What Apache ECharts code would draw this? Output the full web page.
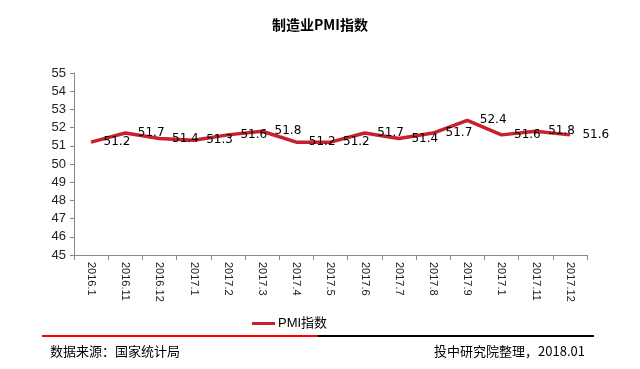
<!DOCTYPE html>
<html><head><meta charset="utf-8">
<script src="https://cdn.jsdelivr.net/npm/echarts@6/dist/echarts.min.js"></script>
<style>html,body{margin:0;padding:0;background:#fff}#c{width:640px;height:369px}</style>
</head><body><div id="c"></div>
<script>
var categories = ['2016.1','2016.11','2016.12','2017.1','2017.2','2017.3','2017.4','2017.5','2017.6','2017.7','2017.8','2017.9','2017.1','2017.11','2017.12'];
var pmiValues = [51.2, 51.7, 51.4, 51.3, 51.6, 51.8, 51.2, 51.2, 51.7, 51.4, 51.7, 52.4, 51.6, 51.8, 51.6];
var seriesName = 'PMI指数';
var titleText = '制造业PMI指数';
var sourceText = '数据来源：国家统计局';
var creditText = '投中研究院整理，2018.01';

var chart = echarts.init(document.getElementById('c'), null, {renderer:'canvas'});
chart.setOption({
  animation: false,
  backgroundColor: '#fff',
  title: {
    text: titleText, left: 267, top: 13,
    textStyle: {fontSize: 14, fontWeight: 'bold', color: '#000', fontFamily: 'Noto Sans CJK SC'}
  },
  legend: {
    data: [{name: seriesName, icon: 'rect'}],
    left: 247, top: 312, itemWidth: 23, itemHeight: 3, itemGap: 4,
    textStyle: {fontSize: 13, color: '#000', fontFamily: 'Liberation Sans, Noto Sans CJK SC', padding: [0,0,0,-2]}
  },
  grid: {left: 74, right: 53, top: 73, bottom: 114},
  xAxis: {
    type: 'category', data: categories, boundaryGap: true,
    axisLine: {lineStyle: {color: '#888', width: 1}},
    axisTick: {show: true, length: 5, lineStyle: {color: '#888'}},
    axisLabel: {interval: 0, rotate: -90, margin: 7, fontSize: 11, color: '#222', fontFamily: 'Liberation Sans'}
  },
  yAxis: {
    type: 'value', min: 45, max: 55, interval: 1,
    splitLine: {show: false},
    axisLine: {show: true, lineStyle: {color: '#888', width: 1}},
    axisTick: {show: true, length: 4, lineStyle: {color: '#888'}},
    axisLabel: {fontSize: 13, color: '#222', margin: 8, fontFamily: 'Liberation Sans'}
  },
  series: [{
    name: seriesName, type: 'line', data: pmiValues,
    showSymbol: true, symbol: 'circle', symbolSize: 1,
    lineStyle: {color: '#C8202F', width: 3.5},
    itemStyle: {color: '#C8202F'},
    label: {show: true, position: 'right', distance: 12, fontSize: 12, color: '#000', fontFamily: 'DejaVu Sans'}
  }],
  graphic: [
    {type: 'line', shape: {x1: 42, y1: 336, x2: 318, y2: 336}, style: {stroke: '#FF0000', lineWidth: 2}},
    {type: 'line', shape: {x1: 318, y1: 336, x2: 594, y2: 336}, style: {stroke: '#000', lineWidth: 2}},
    {type: 'text', left: 50, top: 345, style: {text: sourceText, fontSize: 13, fill: '#000', fontFamily: 'Noto Sans CJK SC'}},
    {type: 'text', right: 55, top: 345, style: {text: creditText, fontSize: 13, fill: '#000', fontFamily: 'Noto Sans CJK SC'}}
  ]
});
</script></body></html>
